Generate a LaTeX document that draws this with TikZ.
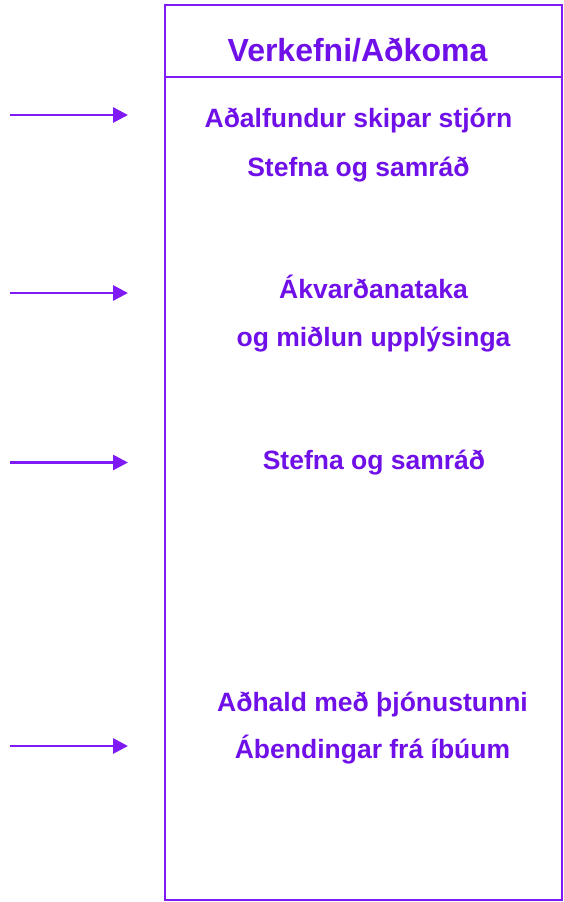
\documentclass[tikz,border=0pt]{standalone}
\usepackage{fontspec}
\setmainfont{Liberation Sans}
\usetikzlibrary{arrows.meta}
\definecolor{txtpurple}{RGB}{112,16,232}
\definecolor{linepurple}{RGB}{127,25,245}
\begin{document}
\begin{tikzpicture}[x=1pt,y=-1pt,
  frame/.style={draw=linepurple,line width=2.8pt},
  divider/.style={draw=linepurple,line width=1.4pt},
  inarrow/.style={draw=linepurple,line width=2.8pt,-{Triangle[length=15pt,width=15pt]}},
  title/.style={text=txtpurple,font=\fontsize{32}{36}\selectfont\bfseries,anchor=base,inner sep=0pt},
  label/.style={text=txtpurple,font=\fontsize{26.5}{30}\selectfont\bfseries,anchor=base,inner sep=0pt}]
\useasboundingbox (0,0) rectangle (564,902);
\draw[frame] (165,5) rectangle (562,900);
\coordinate (dl) at (165,77);
\coordinate (dr) at (562,77);
\draw[divider] (dl) -- (dr);
\node[title] (t) at (357.5,61) {Verkefni/Aðkoma};
\node[label] (a1) at (358.5,127.5) {Aðalfundur skipar stjórn};
\node[label] (a2) at (358.5,176) {Stefna og samráð};
\node[label] (b1) at (373.5,298.5) {Ákvarðanataka};
\node[label] (b2) at (373.5,346) {og miðlun upplýsinga};
\node[label] (c1) at (374,469) {Stefna og samráð};
\node[label] (d1) at (372.5,711.5) {Aðhald með þjónustunni};
\node[label] (d2) at (372.5,758.5) {Ábendingar frá íbúum};
\foreach \i/\yy in {1/115,2/293,3/462.5,4/746}{
  \coordinate (s\i) at (10,\yy);
  \coordinate (e\i) at (128,\yy);
  \draw[inarrow] (s\i) -- (e\i);
}
\end{tikzpicture}
\end{document}
